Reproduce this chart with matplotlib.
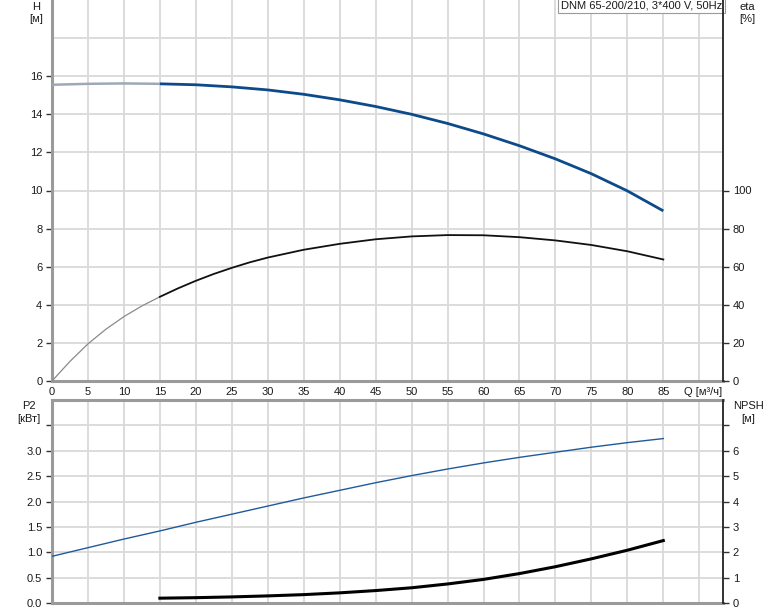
import matplotlib
matplotlib.use("Agg")
import matplotlib.pyplot as plt

plt.rcParams['font.family'] = ['Liberation Sans', 'DejaVu Sans']

# ---- data ----
q_h = [0, 5, 10, 15, 20, 25, 30, 35, 40, 45, 50, 55, 60, 65, 70, 75, 80, 85]
head = [15.55, 15.6, 15.62, 15.6, 15.55, 15.44, 15.28, 15.05, 14.76, 14.41,
        14.0, 13.52, 12.97, 12.35, 11.66, 10.88, 9.98, 8.93]

q_eta = [0, 2.5, 5, 7.5, 10, 12.5, 15, 17.5, 20, 22.5, 25, 27.5, 30, 35, 40, 45,
         50, 55, 60, 65, 70, 75, 80, 85]
eta = [0, 10.3, 19.5, 27.2, 33.8, 39.4, 44.2, 48.6, 52.6, 56.2, 59.4, 62.3, 64.8,
       68.9, 72.0, 74.4, 75.9, 76.6, 76.5, 75.5, 73.8, 71.4, 68.1, 63.8]

q_p2 = [0, 5, 10, 15, 20, 25, 30, 35, 40, 45, 50, 55, 60, 65, 70, 75, 80, 85]
p2 = [0.92, 1.09, 1.26, 1.42, 1.59, 1.75, 1.91, 2.07, 2.22, 2.37, 2.51, 2.64,
      2.76, 2.87, 2.97, 3.07, 3.16, 3.24]

q_npsh = [15, 20, 25, 30, 35, 40, 45, 50, 55, 60, 65, 70, 75, 80, 85]
npsh = [0.19, 0.21, 0.24, 0.28, 0.33, 0.40, 0.49, 0.60, 0.75, 0.93, 1.16, 1.43,
        1.74, 2.08, 2.46]

q_start = 15  # start of working range
x_ticks = [0, 5, 10, 15, 20, 25, 30, 35, 40, 45, 50, 55, 60, 65, 70, 75, 80, 85]
title_text = "DNM 65-200/210, 3*400 V, 50Hz"

# ---- styles ----
GRID = '#d9d9d9'
SPINE_GRAY = '#9a9a9a'
TXT = '#1a1a1a'
FS = 8

fig = plt.figure(figsize=(7.74, 6.11), dpi=100)
W, H = 774, 611

def rect(l, t, r, b):
    return [l / W, 1 - b / H, (r - l) / W, (b - t) / H]

ax1 = fig.add_axes(rect(52, 0, 723, 381))
ax2 = fig.add_axes(rect(52, 400, 723, 603))

def split(qs, vs):
    a_q = [q for q in qs if q <= q_start]
    a_v = [v for q, v in zip(qs, vs) if q <= q_start]
    b_q = [q for q in qs if q >= q_start]
    b_v = [v for q, v in zip(qs, vs) if q >= q_start]
    return a_q, a_v, b_q, b_v

def style(ax, top_spine):
    ax.set_xlim(0, 93.3)
    ax.set_xticks(x_ticks + [90])
    ax.grid(True, color=GRID, linewidth=1.3)
    ax.set_axisbelow(True)
    ax.spines['left'].set_color(SPINE_GRAY)
    ax.spines['left'].set_linewidth(2.2)
    ax.spines['bottom'].set_color(SPINE_GRAY)
    ax.spines['bottom'].set_linewidth(2.2)
    ax.spines['right'].set_visible(False)
    if top_spine:
        ax.spines['top'].set_color(SPINE_GRAY)
        ax.spines['top'].set_linewidth(2.2)
    else:
        ax.spines['top'].set_visible(False)
    ax.tick_params(axis='y', direction='out', length=4, width=1, color='#333333',
                   labelsize=FS, labelcolor=TXT, pad=3)
    ax.tick_params(axis='x', direction='out', length=0, labelsize=FS, labelcolor=TXT, pad=4)

def style_right(ax):
    for s in ['left', 'top', 'bottom']:
        ax.spines[s].set_visible(False)
    ax.spines['right'].set_color('#222222')
    ax.spines['right'].set_linewidth(1.3)
    ax.tick_params(axis='y', direction='out', length=4, width=1, color='#333333',
                   labelsize=FS, labelcolor=TXT, pad=3)

# ---- top panel ----
style(ax1, False)
ax1.set_ylim(0, 20)
ax1.set_yticks([0, 2, 4, 6, 8, 10, 12, 14, 16])
ax1.axhline(18, color=GRID, linewidth=1.3, zorder=0.5)
ax1.set_xticklabels([str(v) for v in x_ticks] + [''])

hq0, hv0, hq1, hv1 = split(q_h, head)
ax1.plot(hq0, hv0, color='#9ea8b8', linewidth=1.8, solid_capstyle='butt', zorder=3)
ax1.plot(hq1, hv1, color='#0d4a8a', linewidth=2.0, solid_capstyle='butt', zorder=3)

ax1r = ax1.twinx()
ax1r.set_ylim(0, 200)
ax1r.set_yticks([0, 20, 40, 60, 80, 100])
style_right(ax1r)
eq0, ev0, eq1, ev1 = split(q_eta, eta)
ax1r.plot(eq0, ev0, color='#8a8a8a', linewidth=0.9, zorder=3)
ax1r.plot(eq1, ev1, color='#111111', linewidth=1.3, zorder=3)

ax1.text(0.999, 0.999, title_text, transform=ax1.transAxes, ha='right', va='top',
         fontsize=FS, color=TXT, zorder=10,
         bbox=dict(boxstyle='square,pad=0.25', facecolor='white', edgecolor='#9a9a9a', linewidth=0.8))

fig.text(36 / W, 1 - 7 / H, 'H', ha='center', va='center', fontsize=FS, color=TXT)
fig.text(36 / W, 1 - 19 / H, '[м]', ha='center', va='center', fontsize=FS, color=TXT)
fig.text(747 / W, 1 - 7 / H, 'eta', ha='center', va='center', fontsize=FS, color=TXT)
fig.text(747 / W, 1 - 19 / H, '[%]', ha='center', va='center', fontsize=FS, color=TXT)
fig.text(703 / W, 1 - 392 / H, 'Q [м³/ч]', ha='center', va='center', fontsize=FS, color=TXT)

# ---- bottom panel ----
style(ax2, True)
ax2.set_ylim(0, 4)
ax2.set_yticks([0, 0.5, 1.0, 1.5, 2.0, 2.5, 3.0, 3.5])
ax2.set_yticklabels(['0.0', '0.5', '1.0', '1.5', '2.0', '2.5', '3.0', ''])
ax2.set_xticklabels([])
ax2.plot(q_p2, p2, color='#1f5a9c', linewidth=1.0, zorder=3)

ax2r = ax2.twinx()
ax2r.set_ylim(0, 8)
ax2r.set_yticks([0, 1, 2, 3, 4, 5, 6, 7])
ax2r.set_yticklabels(['0', '1', '2', '3', '4', '5', '6', ''])
style_right(ax2r)
ax2r.plot(q_npsh, npsh, color='#000000', linewidth=2.2, zorder=3)

fig.text(29 / W, 1 - 406 / H, 'P2', ha='center', va='center', fontsize=FS, color=TXT)
fig.text(29 / W, 1 - 419 / H, '[кВт]', ha='center', va='center', fontsize=FS, color=TXT)
fig.text(748 / W, 1 - 406 / H, 'NPSH', ha='center', va='center', fontsize=FS, color=TXT)
fig.text(748 / W, 1 - 419 / H, '[м]', ha='center', va='center', fontsize=FS, color=TXT)

fig.savefig('out.png', dpi=100)
